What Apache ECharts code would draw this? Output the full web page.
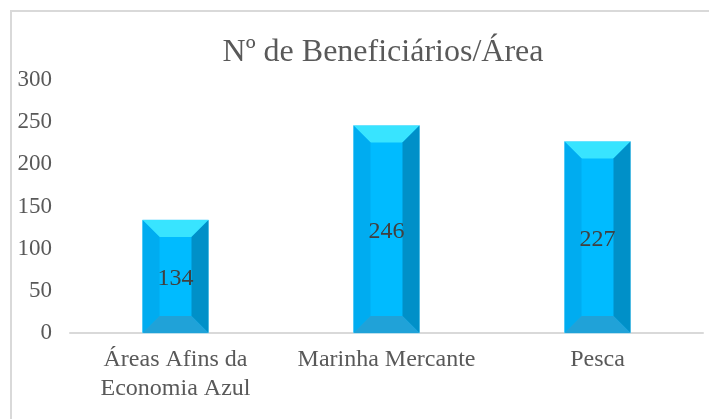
<!DOCTYPE html>
<html>
<head>
<meta charset="utf-8">
<script src="https://cdn.jsdelivr.net/npm/echarts@6/dist/echarts.min.js"></script>
<style>
  html, body { margin:0; padding:0; background:#fff; overflow:hidden; width:709px; height:419px; }
  #wrap { position:absolute; left:0; top:0; width:709px; height:419px; overflow:hidden; }
  #frame { position:absolute; left:10px; top:10px; width:760px; height:460px; box-sizing:border-box;
           border-top:2px solid #d9d9d9; border-left:2px solid #d9d9d9; }
  #main { position:absolute; left:0; top:0; width:709px; height:419px; }
</style>
</head>
<body>
<div id="wrap"><div id="frame"></div></div>
<div id="main"></div>
<script type="text/javascript">
// data
var categories = ['Áreas Afins da\nEconomia Azul', 'Marinha Mercante', 'Pesca'];
var beneficiarios = [134, 246, 227];
var yTicks = [0, 50, 100, 150, 200, 250, 300];

var SERIF = '"Liberation Serif", "Times New Roman", serif';

// bevelled bar drawing
function renderBevel(params, api) {
  var idx = api.value(0);
  var val = api.value(1);
  var top = api.coord([idx, val]);
  var base = api.coord([idx, 0]);
  var w = 66, b = 17;
  var x0 = top[0] - w / 2, x1 = top[0] + w / 2;
  var y0 = top[1], y1 = base[1];
  var bb = Math.min(b, (y1 - y0) / 2);
  return {
    type: 'group',
    children: [
      { type: 'rect', shape: { x: x0, y: y0, width: w, height: y1 - y0 },
        style: { fill: '#00bbff', stroke: '#9fe6ff', lineWidth: 1 } },
      { type: 'polygon', shape: { points: [[x0, y0], [x1, y0], [x1 - b, y0 + bb], [x0 + b, y0 + bb]] },
        style: { fill: '#38e4ff' } },
      { type: 'polygon', shape: { points: [[x0, y0], [x0 + b, y0 + bb], [x0 + b, y1 - bb], [x0, y1]] },
        style: { fill: '#00acf0' } },
      { type: 'polygon', shape: { points: [[x1, y0], [x1, y1], [x1 - b, y1 - bb], [x1 - b, y0 + bb]] },
        style: { fill: '#0090c8' } },
      { type: 'polygon', shape: { points: [[x0, y1], [x0 + b, y1 - bb], [x1 - b, y1 - bb], [x1, y1]] },
        style: { fill: '#20a2d8' } },
      { type: 'text', style: { text: String(val), x: top[0], y: (y0 + y1) / 2 + 2,
        align: 'center', verticalAlign: 'middle', fill: '#404040',
        font: '24px ' + SERIF } }
    ]
  };
}

var myChart = echarts.init(document.getElementById('main'));
var option = {
  animation: false,
  title: {
    text: 'Nº de Beneficiários/Área',
    left: 378, top: 32, textAlign: 'center',
    textStyle: { fontFamily: SERIF, fontSize: 32, fontWeight: 'normal', color: '#595959' }
  },
  grid: { left: 70, right: 6, top: 80, bottom: 86 },
  xAxis: {
    type: 'category',
    data: categories,
    axisLine: { lineStyle: { color: '#d9d9d9', width: 2 } },
    axisTick: { show: false },
    axisLabel: { fontFamily: SERIF, fontSize: 24, color: '#595959', margin: 12, lineHeight: 29,
                 interval: 0, hideOverlap: false }
  },
  yAxis: {
    type: 'value',
    min: yTicks[0], max: yTicks[yTicks.length - 1], interval: 50,
    axisLine: { show: false },
    axisTick: { show: false },
    splitLine: { show: false },
    axisLabel: { fontFamily: SERIF, fontSize: 23, color: '#595959', margin: 18 }
  },
  series: [{
    type: 'custom',
    renderItem: renderBevel,
    encode: { x: 0, y: 1 },
    data: beneficiarios.map(function (v, i) { return [i, v]; })
  }]
};
myChart.setOption(option);
</script>
</body>
</html>
